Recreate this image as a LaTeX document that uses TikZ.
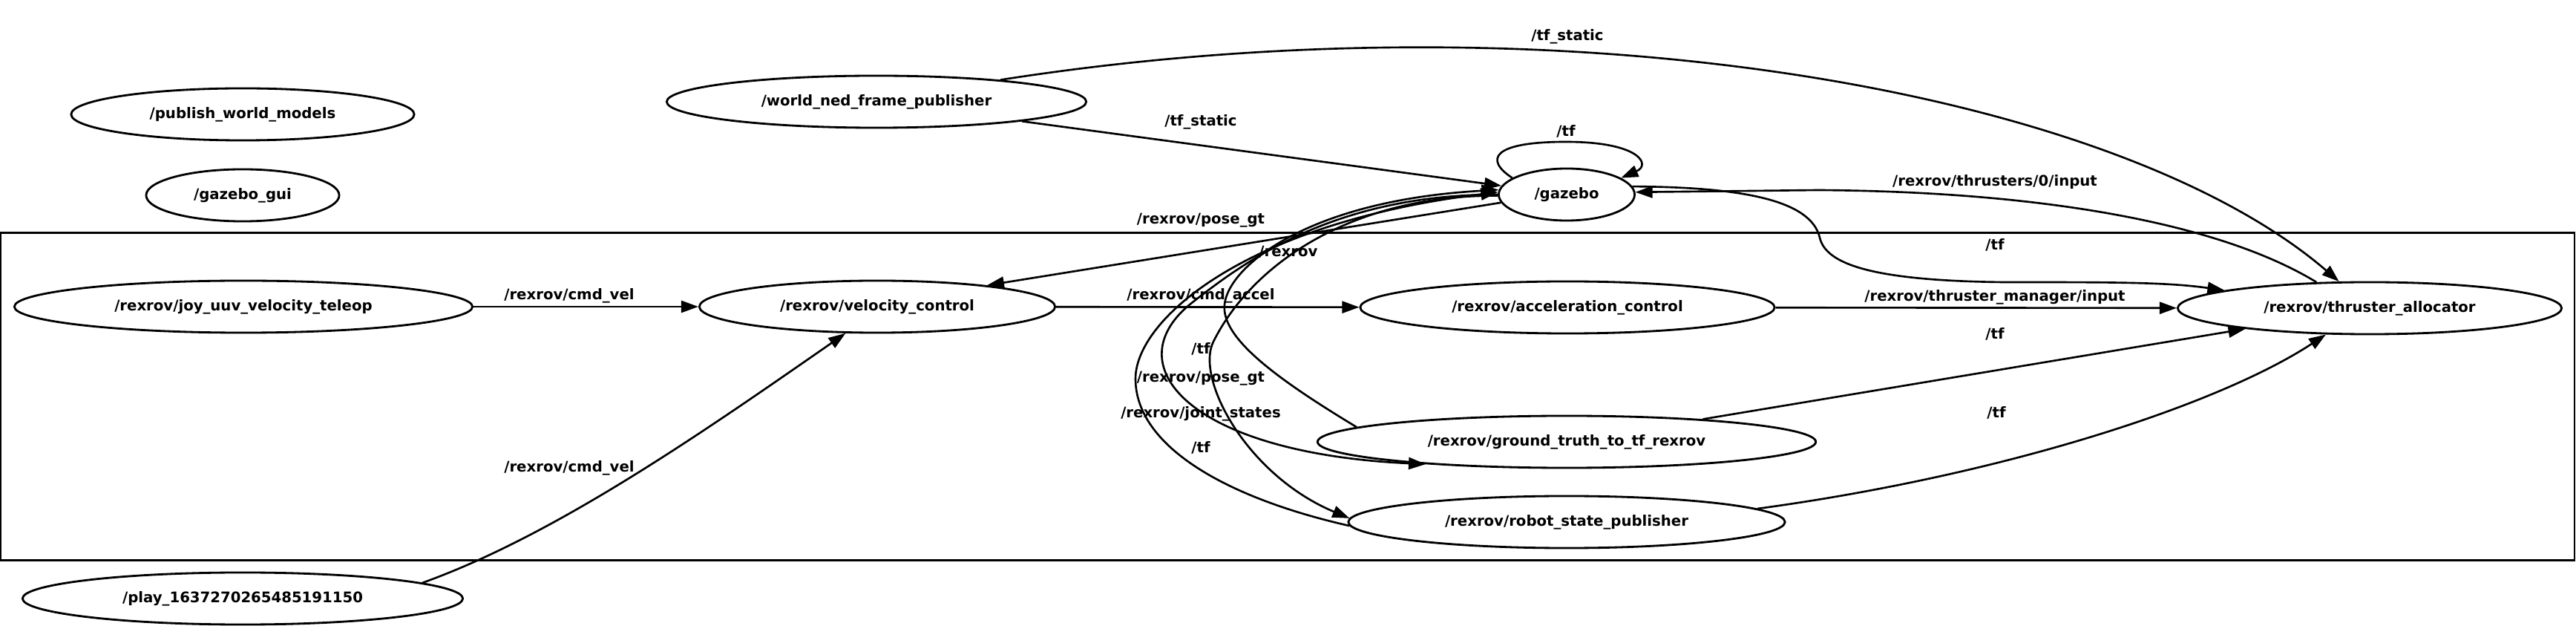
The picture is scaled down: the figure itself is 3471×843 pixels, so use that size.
\documentclass[tikz,border=0pt]{standalone}
\usepackage{fontspec}
\setmainfont{DejaVu Sans}
\usetikzlibrary{arrows.meta,shapes.geometric}
\newcommand{\graphfont}{\fontsize{5.6pt}{6.7pt}\selectfont\bfseries}
\tikzset{
  rosnode/.style={draw, ellipse, line width=0.8pt, inner sep=0pt, minimum height=7mm, font=\graphfont},
  topic/.style={inner sep=0pt, font=\graphfont},
  nsbox/.style={draw, line width=0.8pt, inner sep=0pt},
  link/.style={-{Triangle[length=2.3mm,width=1.6mm]}, line width=0.75pt},
}

\begin{document}
\begin{tikzpicture}[x=0.01cm, y=-0.01cm]
  \useasboundingbox (0,0) rectangle (3471,843);

  % NAMESPACE CLUSTER
  \node[nsbox, minimum width=34.66cm, minimum height=4.4cm] (rexrovns) at (1735,534) {};
  \node[topic] (nslabel) at (1736,339) {/rexrov};

  % NODES OUTSIDE THE CLUSTER
  \node[rosnode, minimum width=4.62cm] (pubworld) at (327,154) {/publish\_world\_models};
  \node[rosnode, minimum width=2.60cm] (gzgui) at (327,263) {/gazebo\_gui};
  \node[rosnode, minimum width=5.65cm] (wned) at (1181,137) {/world\_ned\_frame\_publisher};
  \node[rosnode, minimum width=1.83cm] (gazebo) at (2111,262) {/gazebo};
  \node[rosnode, minimum width=5.93cm] (play) at (327,806) {/play\_1637270265485191150};

  % NODES INSIDE THE CLUSTER
  \node[rosnode, minimum width=6.17cm] (joy) at (328,413) {/rexrov/joy\_uuv\_velocity\_teleop};
  \node[rosnode, minimum width=4.79cm] (velctrl) at (1182,413) {/rexrov/velocity\_control};
  \node[rosnode, minimum width=5.58cm] (accctrl) at (2112,414) {/rexrov/acceleration\_control};
  \node[rosnode, minimum width=5.17cm] (thralloc) at (3193,415) {/rexrov/thruster\_allocator};
  \node[rosnode, minimum width=6.71cm] (gttf) at (2111,595) {/rexrov/ground\_truth\_to\_tf\_rexrov};
  \node[rosnode, minimum width=5.88cm] (rsp) at (2111,703) {/rexrov/robot\_state\_publisher};

  % TOPICS AROUND GAZEBO
  \draw[link] (wned.10) .. controls (2100,-10) and (2850,120) .. (thralloc.139);
  \node[topic] (tfstatictop) at (2112,49) {/tf\_static};
  \draw[link] (wned) -- (gazebo);
  \node[topic] (tfstatic) at (1618,164) {/tf\_static};
  \draw[link] (gazebo.163) .. controls (2000,215) and (2010,191) .. (2110,191)
    .. controls (2210,191) and (2225,222) .. (gazebo.17);
  \node[topic] (tfloop) at (2110,177) {/tf};
  \draw[link] (thralloc.154) .. controls (2990,300) and (2750,258) .. (2450,256) -- (gazebo.2);
  \node[topic] (thrinput) at (2688,245) {/rexrov/thrusters/0/input};
  \draw[link] (gazebo.7) .. controls (2350,252) and (2440,270) .. (2452,320)
    .. controls (2460,355) and (2520,378) .. (2700,380)
    .. controls (2850,380) and (2920,380) .. (thralloc.173);
  \node[topic] (tfgzthr) at (2688,330) {/tf};
  \draw[link] (gazebo.187) -- (velctrl.11);
  \node[topic] (posevel) at (1618,297) {/rexrov/pose\_gt};

  % VELOCITY CHAIN
  \draw[link] (joy) -- (velctrl);
  \node[topic] (cmdveljoy) at (767,398) {/rexrov/cmd\_vel};
  \draw[link] (play.5) .. controls (750,720) and (950,580) .. (velctrl.220);
  \node[topic] (cmdvelplay) at (767,630) {/rexrov/cmd\_vel};
  \draw[link] (velctrl) -- (accctrl);
  \node[topic] (cmdaccel) at (1618,398) {/rexrov/cmd\_accel};
  \draw[link] (accctrl) -- (thralloc);
  \node[topic] (thrmgr) at (2688,400) {/rexrov/thruster\_manager/input};

  % TF TO THE ALLOCATOR
  \draw[link] (gttf) -- (thralloc);
  \node[topic] (tfgtthr) at (2688,450) {/tf};
  \draw[link] (rsp.4) .. controls (2700,640) and (2990,545) .. (thralloc.211);
  \node[topic] (tfrspthr) at (2690,556) {/tf};

  % BUNDLE BETWEEN GAZEBO AND THE STATE NODES
  \draw[link] (gttf.176) .. controls (1720,510) and (1645,455) .. (1650,410)
    .. controls (1655,360) and (1760,270) .. (gazebo.176);
  \node[topic] (tfgtgz) at (1618,470) {/tf};
  \draw[link] (gazebo.180) .. controls (1800,262) and (1680,350) .. (1607,407)
    .. controls (1500,490) and (1600,610) .. (gttf.189);
  \node[topic] (posegt) at (1618,510) {/rexrov/pose\_gt};
  \draw[link] (gazebo.181) .. controls (1830,262) and (1690,350) .. (1635,460)
    .. controls (1610,510) and (1680,640) .. (rsp.179);
  \node[topic] (jointst) at (1618,557) {/rexrov/joint\_states};
  \draw[link] (rsp.181) .. controls (1650,670) and (1530,600) .. (1530,510)
    .. controls (1530,430) and (1680,300) .. (gazebo.178);
  \node[topic] (tfrspgz) at (1618,603) {/tf};

\end{tikzpicture}
\end{document}
